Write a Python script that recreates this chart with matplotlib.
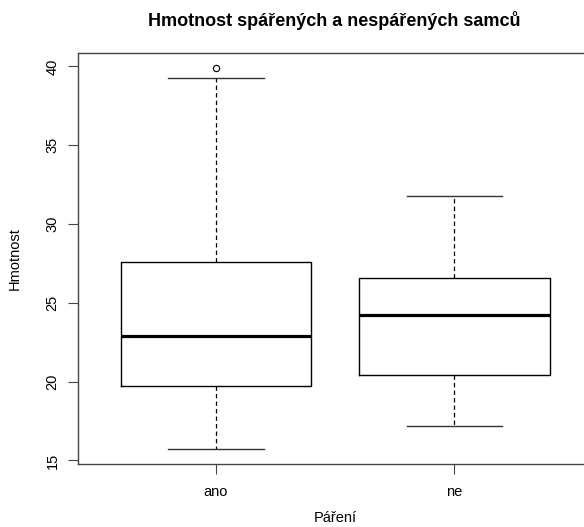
import matplotlib.pyplot as plt
import matplotlib

matplotlib.rcParams['font.family'] = ['Liberation Sans', 'DejaVu Sans']

# data (boxplot statistics)
skupiny = ['ano', 'ne']
dolni_vous = [15.74, 17.2]
q1 = [19.7, 20.4]
median = [22.9, 24.2]
q3 = [27.6, 26.6]
horni_vous = [39.24, 31.76]
odlehle = [[39.9], []]

stats = []
for i, name in enumerate(skupiny):
    stats.append(dict(label=name, whislo=dolni_vous[i], q1=q1[i], med=median[i],
                      q3=q3[i], whishi=horni_vous[i], fliers=odlehle[i]))

W, H = 584, 527
fig = plt.figure(figsize=(W / 100, H / 100), dpi=100)
left, right, top, bottom = 77.7, 592.4, 52.7, 464
ax = fig.add_axes([left / W, 1 - bottom / H, (right - left) / W, (bottom - top) / H])

ax.bxp(stats, positions=[1, 2], widths=0.8, patch_artist=False,
       boxprops=dict(color='black', linewidth=1),
       medianprops=dict(color='black', linewidth=2.3, solid_capstyle='butt'),
       whiskerprops=dict(color='black', linewidth=0.9, linestyle=(0, (3.5, 2.5))),
       capprops=dict(color='#333333', linewidth=1),
       flierprops=dict(marker='o', markerfacecolor='none', markeredgecolor='black',
                       markersize=4.5, markeredgewidth=0.8),
       capwidths=0.4)

ax.set_xlim(0.42, 2.58)
ax.set_ylim(14.77, 40.87)
ax.set_yticks([15, 20, 25, 30, 35, 40])
ax.set_xticks([1, 2])
ax.set_xticklabels(skupiny)

for s in ax.spines.values():
    s.set_color('#444444')
    s.set_linewidth(1)

ax.tick_params(axis='both', length=7, width=0.8, color='#444444', labelsize=10.5)
ax.tick_params(axis='x', pad=8)
ax.tick_params(axis='y', labelrotation=90, pad=6)
for lab in ax.get_yticklabels():
    lab.set_verticalalignment('center')

fig.text(335 / W, 1 - 518 / H, 'Páření', ha='center', va='center', fontsize=10.5)
ax.set_ylabel('Hmotnost', fontsize=10.5, labelpad=17)
fig.text(334 / W, 1 - 20 / H, 'Hmotnost spářených a nespářených samců',
         ha='center', va='center', fontsize=13, fontweight='bold')

plt.savefig('out.png', dpi=100)
plt.close()
